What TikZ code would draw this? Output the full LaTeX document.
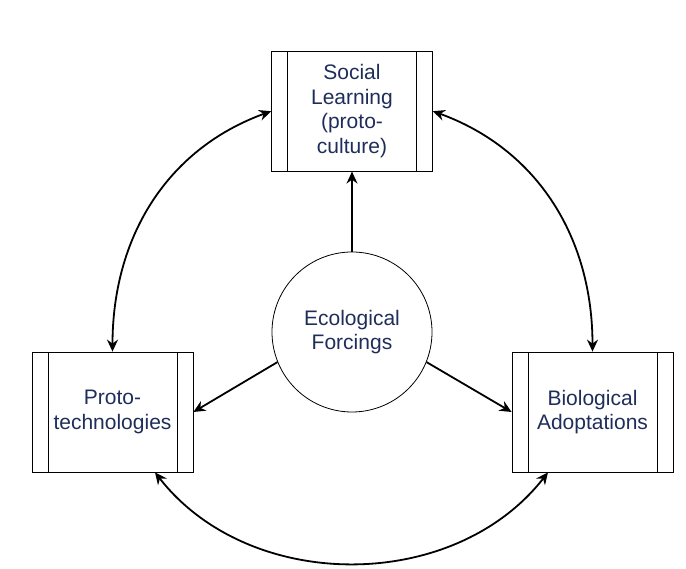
\documentclass[tikz,border=0pt]{standalone}
\usepackage{fontspec}
\setmainfont{Liberation Sans}
\usetikzlibrary{arrows.meta,positioning}
\definecolor{txtblue}{RGB}{30,45,90}

\tikzstyle{pb} = [draw, line width=0.8pt, minimum width=161pt, minimum height=120pt, inner sep=0pt, align=center,
  path picture={
    \draw[line width=0.8pt] ([xshift=16pt]path picture bounding box.north west) -- ([xshift=16pt]path picture bounding box.south west);
    \draw[line width=0.8pt] ([xshift=-16pt]path picture bounding box.north east) -- ([xshift=-16pt]path picture bounding box.south east);
  }]
\tikzstyle{cn} = [circle, draw, line width=0.8pt, minimum size=160pt, inner sep=0pt, align=center]
\tikzstyle{ar} = [line width=1.8pt, -{Stealth[length=12pt, width=11pt, inset=4pt]}]
\tikzstyle{dar} = [line width=1.8pt, {Stealth[length=12pt, width=11pt, inset=4pt]}-{Stealth[length=12pt, width=11pt, inset=4pt]}]
\tikzstyle{every node}=[font=\fontsize{21}{24.7}\selectfont, text=txtblue]

\begin{document}
\begin{tikzpicture}[x=1pt, y=1pt]
  \useasboundingbox (0,0) rectangle (686,569);
  \node[cn] (eco) at (352,237) {Ecological\\Forcings};
  \node[pb, above=80pt of eco] (social) {Social\\Learning\\(proto-\\culture)};
  \node[pb] (proto) at (112.5,157) {Proto-\\technologies};
  \node[pb] (bio) at (592.5,157) {Biological\\Adoptations};

  \draw[ar] (eco.north) -- (social.south);
  \draw[ar] (eco.202) -- (proto.east);
  \draw[ar] (eco.-22) -- (bio.west);

  \draw[dar] (social.west) to[out=200, in=90] (proto.north);
  \draw[dar] (social.east) to[out=-20, in=90] (bio.north);
  \draw[dar] ([xshift=42.5pt]proto.south) to[out=-52, in=-128] ([xshift=-44.5pt]bio.south);
\end{tikzpicture}
\end{document}
